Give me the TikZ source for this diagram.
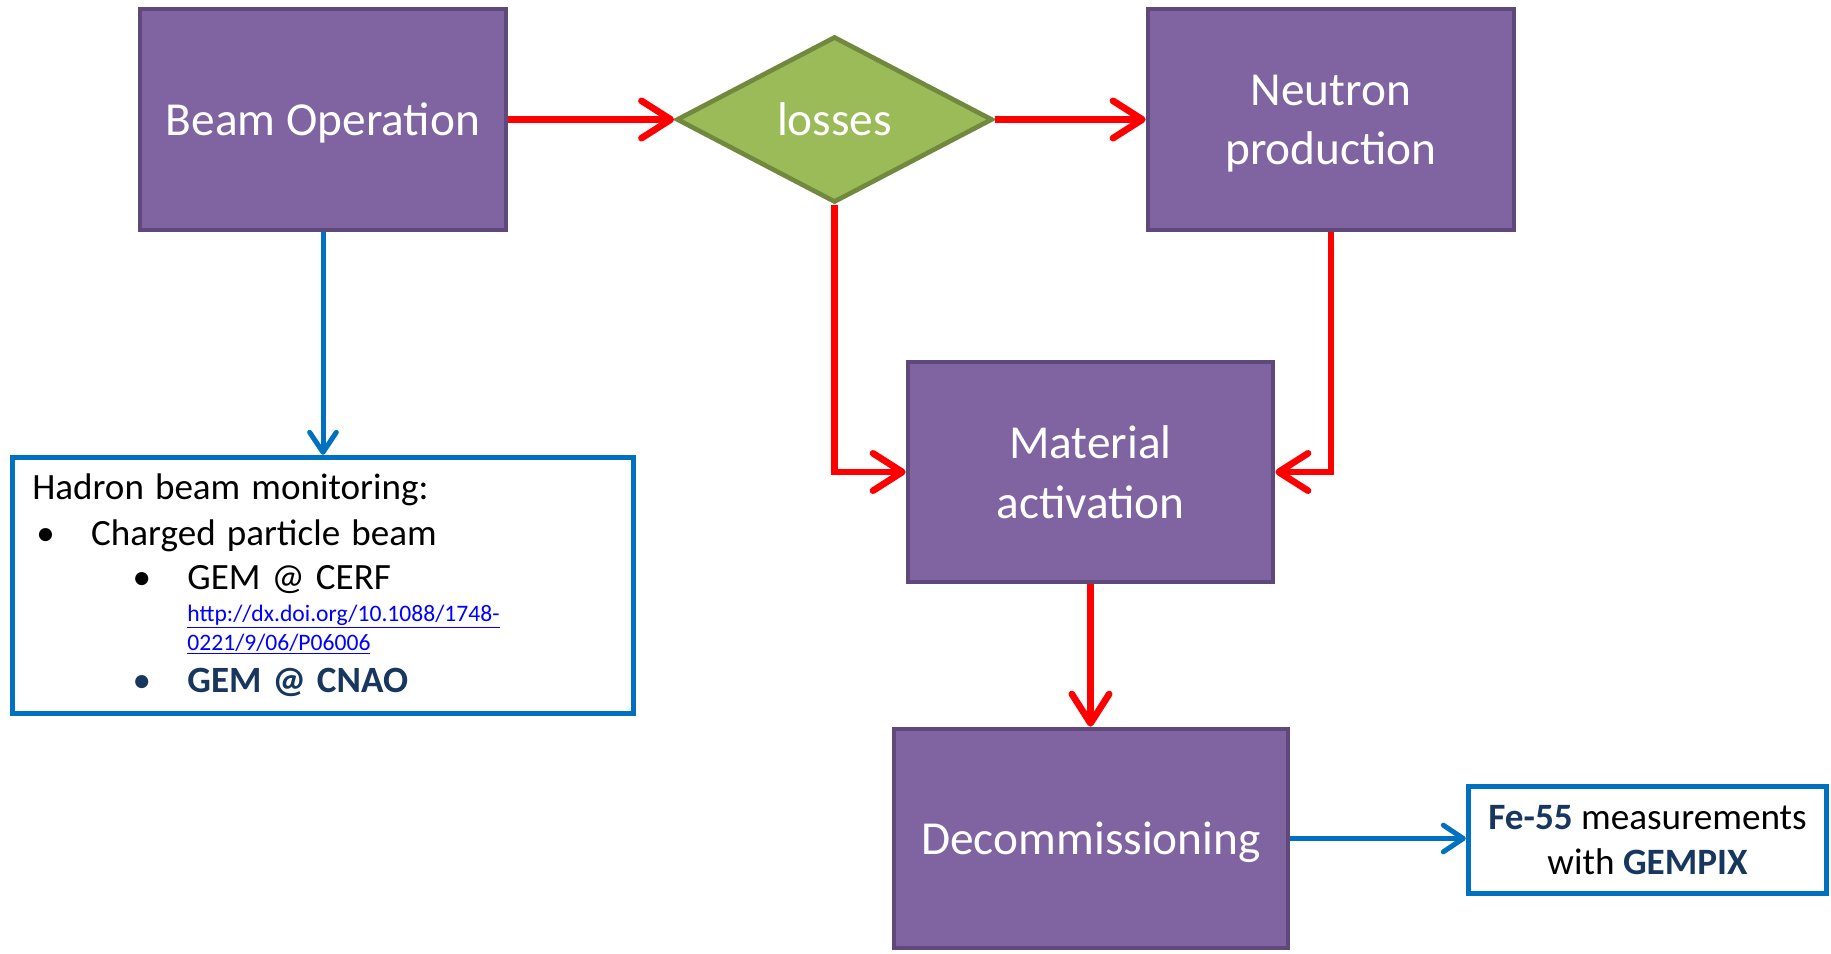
\documentclass[tikz,border=0pt]{standalone}
\usepackage{fontspec}
\setmainfont{Carlito}
\usetikzlibrary{shapes.geometric,arrows.meta}

\definecolor{boxfill}{HTML}{8064A2}
\definecolor{boxline}{HTML}{5F497A}
\definecolor{lossfill}{HTML}{9BBB59}
\definecolor{lossline}{HTML}{71893F}
\definecolor{flowred}{HTML}{FF0000}
\definecolor{noteblue}{HTML}{0070C0}
\definecolor{navy}{HTML}{17375E}
\definecolor{linkblue}{HTML}{0000FF}

\tikzset{
  stage/.style={rectangle, draw=boxline, fill=boxfill, line width=3.5pt, text=white,
    align=center, font=\fontsize{35.5}{44.5}\selectfont, text depth=0pt,
    minimum width=274.5pt, minimum height=165.75pt},
  decision/.style={diamond, draw=lossline, fill=lossfill, line width=3.5pt, text=white,
    font=\fontsize{35.5}{43}\selectfont, inner sep=0pt, text depth=0pt,
    minimum width=237pt, minimum height=124.5pt},
  note/.style={rectangle, draw=noteblue, fill=white, line width=4pt},
  redflow/.style={draw=flowred, line width=5pt,
    -{Straight Barb[length=22pt,width=28pt,line cap=round,line join=round]}},
  blueflow/.style={draw=noteblue, line width=3.75pt,
    -{Straight Barb[length=15pt,width=20pt,line cap=round,line join=round]}},
}

\begin{document}
\begin{tikzpicture}[x=0.75pt, y=-0.75pt]

    \useasboundingbox (0,0) rectangle (1831,953);

    % Stages
    \node[stage] (beam) at (323,119.5) {Beam Operation};
    \node[decision] (losses) at (834.5,119.5) {losses};
    \node[stage] (neutron) at (1331,119.5) {Neutron\\production};
    \node[stage, minimum width=273.75pt, minimum height=165pt] (material) at (1090.5,472) {Material\\activation};
    \node[stage, minimum width=295.5pt, minimum height=164.25pt] (decom) at (1091,838.5) {Decommissioning};

    % Notes
    \node[note, minimum width=465.75pt, minimum height=192pt, text width=436pt, align=left] (monitor) at (323,585.5) {%
      \parindent=0pt
      \fontsize{27.8}{34}\selectfont\spaceskip=0.3em Hadron beam monitoring:\par
      \fontsize{27.8}{34}\selectfont\spaceskip=0.3em\hspace*{3pt}\makebox[41.2pt][l]{\textbullet}Charged particle beam\par
      \fontsize{27.8}{33}\selectfont\spaceskip=0.3em\hspace*{75.3pt}\makebox[41pt][l]{\textbullet}GEM @ CERF\par
      \fontsize{17.7}{24.5}\selectfont\spaceskip=0pt\hspace*{116.3pt}\textcolor{linkblue}{\underline{http://dx.doi.org/10.1088/1748-}}\par
      \fontsize{17.7}{21.75}\selectfont\hspace*{116.3pt}\textcolor{linkblue}{\underline{0221/9/06/P06006}}\par
      \fontsize{27.8}{31.5}\selectfont\spaceskip=0.3em\hspace*{75.3pt}\textcolor{navy}{\makebox[41pt][l]{\textbullet}\textbf{GEM @ CNAO}}\par};
    \node[note, minimum width=268.5pt, minimum height=80.25pt, align=center,
      font=\fontsize{27.9}{34}\selectfont] (fe) at (1647.5,840)
      {\textcolor{navy}{\textbf{Fe-55}} measurements\\with \textcolor{navy}{\textbf{GEMPIX}}};

    % Red flow
    \draw[redflow] (beam) -- (losses);
    \draw[redflow] (losses) -- (neutron);
    \draw[redflow] (losses.south) |- (material.west);
    \draw[redflow] (neutron.south) |- (material.east);
    \draw[redflow] (material.south) -- (material.south |- decom.north);

    % Blue flow
    \draw[blueflow] (beam.south) -- (beam.south |- monitor.north);
    \draw[blueflow] (decom.east) -- (decom.east -| fe.west);

\end{tikzpicture}
\end{document}
